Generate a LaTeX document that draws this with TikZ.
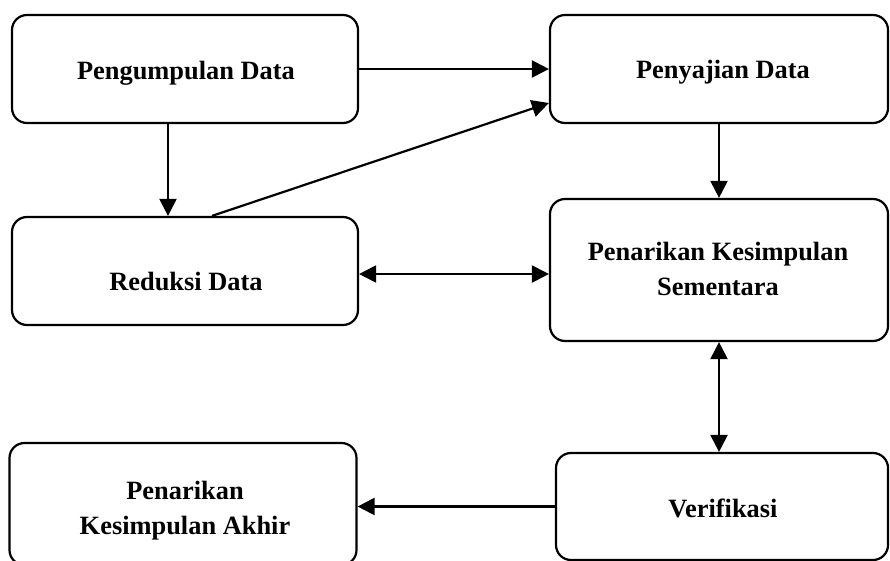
\documentclass[tikz,border=0pt]{standalone}
\usepackage{fontspec}
\setmainfont{Liberation Serif}
\usetikzlibrary{arrows.meta}
\begin{document}
\begin{tikzpicture}[x=1pt,y=-1pt,
  box/.style={draw=black, line width=2.2pt, rounded corners=15pt, inner sep=0pt},
  txt/.style={inner sep=0pt, align=center, font=\fontsize{26.4}{35}\selectfont\bfseries},
  conn/.style={line width=2.2pt, -{Triangle[length=17pt,width=17pt]}},
  conn2/.style={line width=2.2pt, {Triangle[length=17pt,width=17pt]}-{Triangle[length=17pt,width=17pt]}}]
\useasboundingbox (0,0) rectangle (890,561);
\node[box, minimum width=346pt, minimum height=108pt] (b1) at (185,69) {};
\node[box, minimum width=338pt, minimum height=108pt] (b2) at (719,69) {};
\node[box, minimum width=346pt, minimum height=108pt] (b3) at (185,271) {};
\node[box, minimum width=338pt, minimum height=142pt] (b4) at (719,270) {};
\node[box, minimum width=347pt, minimum height=122pt] (b5) at (183,504) {};
\node[box, minimum width=332pt, minimum height=107pt] (b6) at (722,506.5) {};
\node[txt, anchor=base] (t1) at (186,80) {Pengumpulan Data};
\node[txt, anchor=base] (t2) at (723,79) {Penyajian Data};
\node[txt, anchor=base] (t3) at (186,290) {Reduksi Data};
\node[txt] (t4) at (718,269) {Penarikan Kesimpulan\\Sementara};
\node[txt] (t5) at (185,511) {Penarikan\\Kesimpulan Akhir};
\node[txt, anchor=base] (t6) at (723,517) {Verifikasi};
\draw[conn] (b1.east) -- (b2.west);
\draw[conn] ([xshift=-17pt]b1.south) -- ([xshift=-17pt]b3.north);
\draw[conn] ([xshift=27pt]b3.north) -- ([yshift=-34pt]b2.west);
\draw[conn] (b2.south) -- (b4.north);
\draw[conn2] ([yshift=-3pt]b3.east) -- ([yshift=-3pt]b3.east -| b4.west);
\draw[conn2] (b4.south) -- (b4.south |- b6.north);
\draw[conn] (b6.west) -- (b6.west -| b5.east);
\end{tikzpicture}
\end{document}
